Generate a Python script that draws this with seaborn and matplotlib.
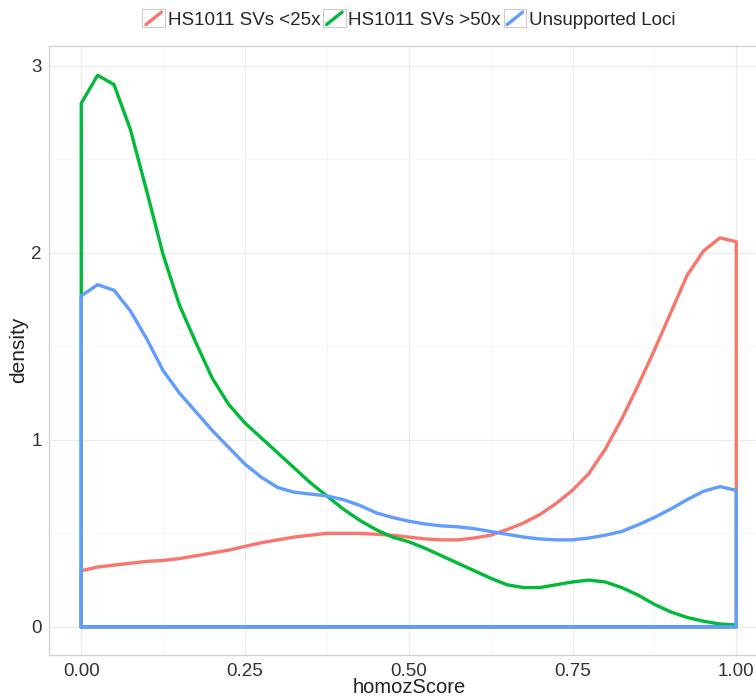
import numpy as np
import pandas as pd
import matplotlib
matplotlib.use("Agg")
import matplotlib.pyplot as plt
import seaborn as sns
from matplotlib.legend_handler import HandlerBase
from matplotlib.patches import Rectangle
from matplotlib.lines import Line2D

score = [0.0, 0.025, 0.05, 0.075, 0.1, 0.125, 0.15, 0.175, 0.2, 0.225,
         0.25, 0.275, 0.3, 0.325, 0.35, 0.375, 0.4, 0.425, 0.45, 0.475,
         0.5, 0.525, 0.55, 0.575, 0.6, 0.625, 0.65, 0.675, 0.7, 0.725,
         0.75, 0.775, 0.8, 0.825, 0.85, 0.875, 0.9, 0.925, 0.95, 0.975, 1.0]
dens_low = [0.30, 0.32, 0.33, 0.34, 0.35, 0.355, 0.365, 0.38, 0.395, 0.41,
            0.43, 0.45, 0.465, 0.48, 0.49, 0.50, 0.50, 0.50, 0.495, 0.49,
            0.48, 0.47, 0.465, 0.465, 0.475, 0.49, 0.52, 0.555, 0.60, 0.66,
            0.73, 0.82, 0.95, 1.11, 1.29, 1.48, 1.68, 1.88, 2.01, 2.08, 2.06]
dens_high = [2.80, 2.95, 2.90, 2.66, 2.33, 1.99, 1.72, 1.52, 1.33, 1.19,
             1.09, 1.01, 0.93, 0.85, 0.77, 0.70, 0.63, 0.57, 0.52, 0.48,
             0.455, 0.42, 0.38, 0.34, 0.30, 0.26, 0.225, 0.21, 0.21, 0.225,
             0.24, 0.25, 0.24, 0.21, 0.17, 0.12, 0.08, 0.05, 0.03, 0.015, 0.01]
dens_unsup = [1.77, 1.83, 1.80, 1.69, 1.54, 1.37, 1.25, 1.15, 1.05, 0.96,
              0.87, 0.80, 0.745, 0.72, 0.71, 0.70, 0.68, 0.65, 0.61, 0.585,
              0.565, 0.55, 0.54, 0.535, 0.525, 0.51, 0.495, 0.48, 0.47, 0.465,
              0.465, 0.475, 0.49, 0.51, 0.545, 0.585, 0.63, 0.68, 0.725, 0.75, 0.73]

groups = ["HS1011 SVs <25x", "HS1011 SVs >50x", "Unsupported Loci"]
colors = ["#F8766D", "#00BA38", "#619CFF"]

# closed outline per group, like geom_density: baseline + sides + curve
frames = []
for name, dens in zip(groups, [dens_low, dens_high, dens_unsup]):
    xs = [score[0]] + score + [score[-1], score[0]]
    ys = [0.0] + dens + [0.0, 0.0]
    frames.append(pd.DataFrame({"homozScore": xs, "density": ys, "group": name}))
df = pd.concat(frames, ignore_index=True)

sns.set_style("white")
plt.rcParams["font.family"] = ["Liberation Sans", "DejaVu Sans"]

fig = plt.figure(figsize=(7.56, 7.0), dpi=100)
ax = fig.add_axes([48.5 / 756, 45.5 / 700, 720.5 / 756, 608.8 / 700])

sns.lineplot(data=df, x="homozScore", y="density", hue="group", hue_order=groups,
             palette=colors, sort=False, estimator=None, linewidth=2.4, ax=ax,
             legend=False)
for ln in ax.lines:
    ln.set_solid_joinstyle("round")
    ln.set_solid_capstyle("round")

ax.set_xlim(-0.05, 1.05)
ax.set_ylim(-0.148, 3.108)
ax.set_xticks([0, 0.25, 0.5, 0.75, 1.0])
ax.set_xticklabels(["0.00", "0.25", "0.50", "0.75", "1.00"])
ax.set_yticks([0, 1, 2, 3])
ax.set_xticks([0.125, 0.375, 0.625, 0.875], minor=True)
ax.set_yticks([0.5, 1.5, 2.5], minor=True)
ax.grid(which="major", color="#EBEBEB", linewidth=0.9)
ax.grid(which="minor", color="#F6F6F6", linewidth=0.6)
ax.set_axisbelow(True)
ax.tick_params(axis="both", which="major", length=3, color="#B3B3B3",
               labelsize=13.5, labelcolor="#333333", direction="out", pad=2)
ax.tick_params(axis="x", which="major", pad=3)
ax.tick_params(which="minor", length=0)
for sp in ax.spines.values():
    sp.set_color("#D4D4D4")
    sp.set_linewidth(1.0)
ax.set_xlabel("homozScore", fontsize=14.5, color="#222222", labelpad=-1)
ax.set_ylabel("density", fontsize=15, color="#222222", labelpad=2)


class DiagKey(HandlerBase):
    def create_artists(self, legend, orig_handle, xdescent, ydescent, width, height,
                       fontsize, trans):
        box = Rectangle((-xdescent, -ydescent), width, height, facecolor="white",
                        edgecolor="#CCCCCC", linewidth=0.8, transform=trans)
        diag = Line2D([-xdescent + 2.5, -xdescent + width - 2.5],
                      [-ydescent + 2, -ydescent + height - 2],
                      color=orig_handle.get_color(), linewidth=2.4,
                      solid_capstyle="round", transform=trans)
        return [box, diag]


handles = [Line2D([], [], color=c) for c in colors]
fig.legend(handles, groups, loc="center", bbox_to_anchor=(409 / 756, 1 - 19 / 700),
           ncol=3, frameon=False, fontsize=13.5, handlelength=1.2, handleheight=1.1,
           handletextpad=0.15, columnspacing=0.15, borderpad=0.1,
           handler_map={Line2D: DiagKey()})

fig.savefig("out.png", dpi=100)
